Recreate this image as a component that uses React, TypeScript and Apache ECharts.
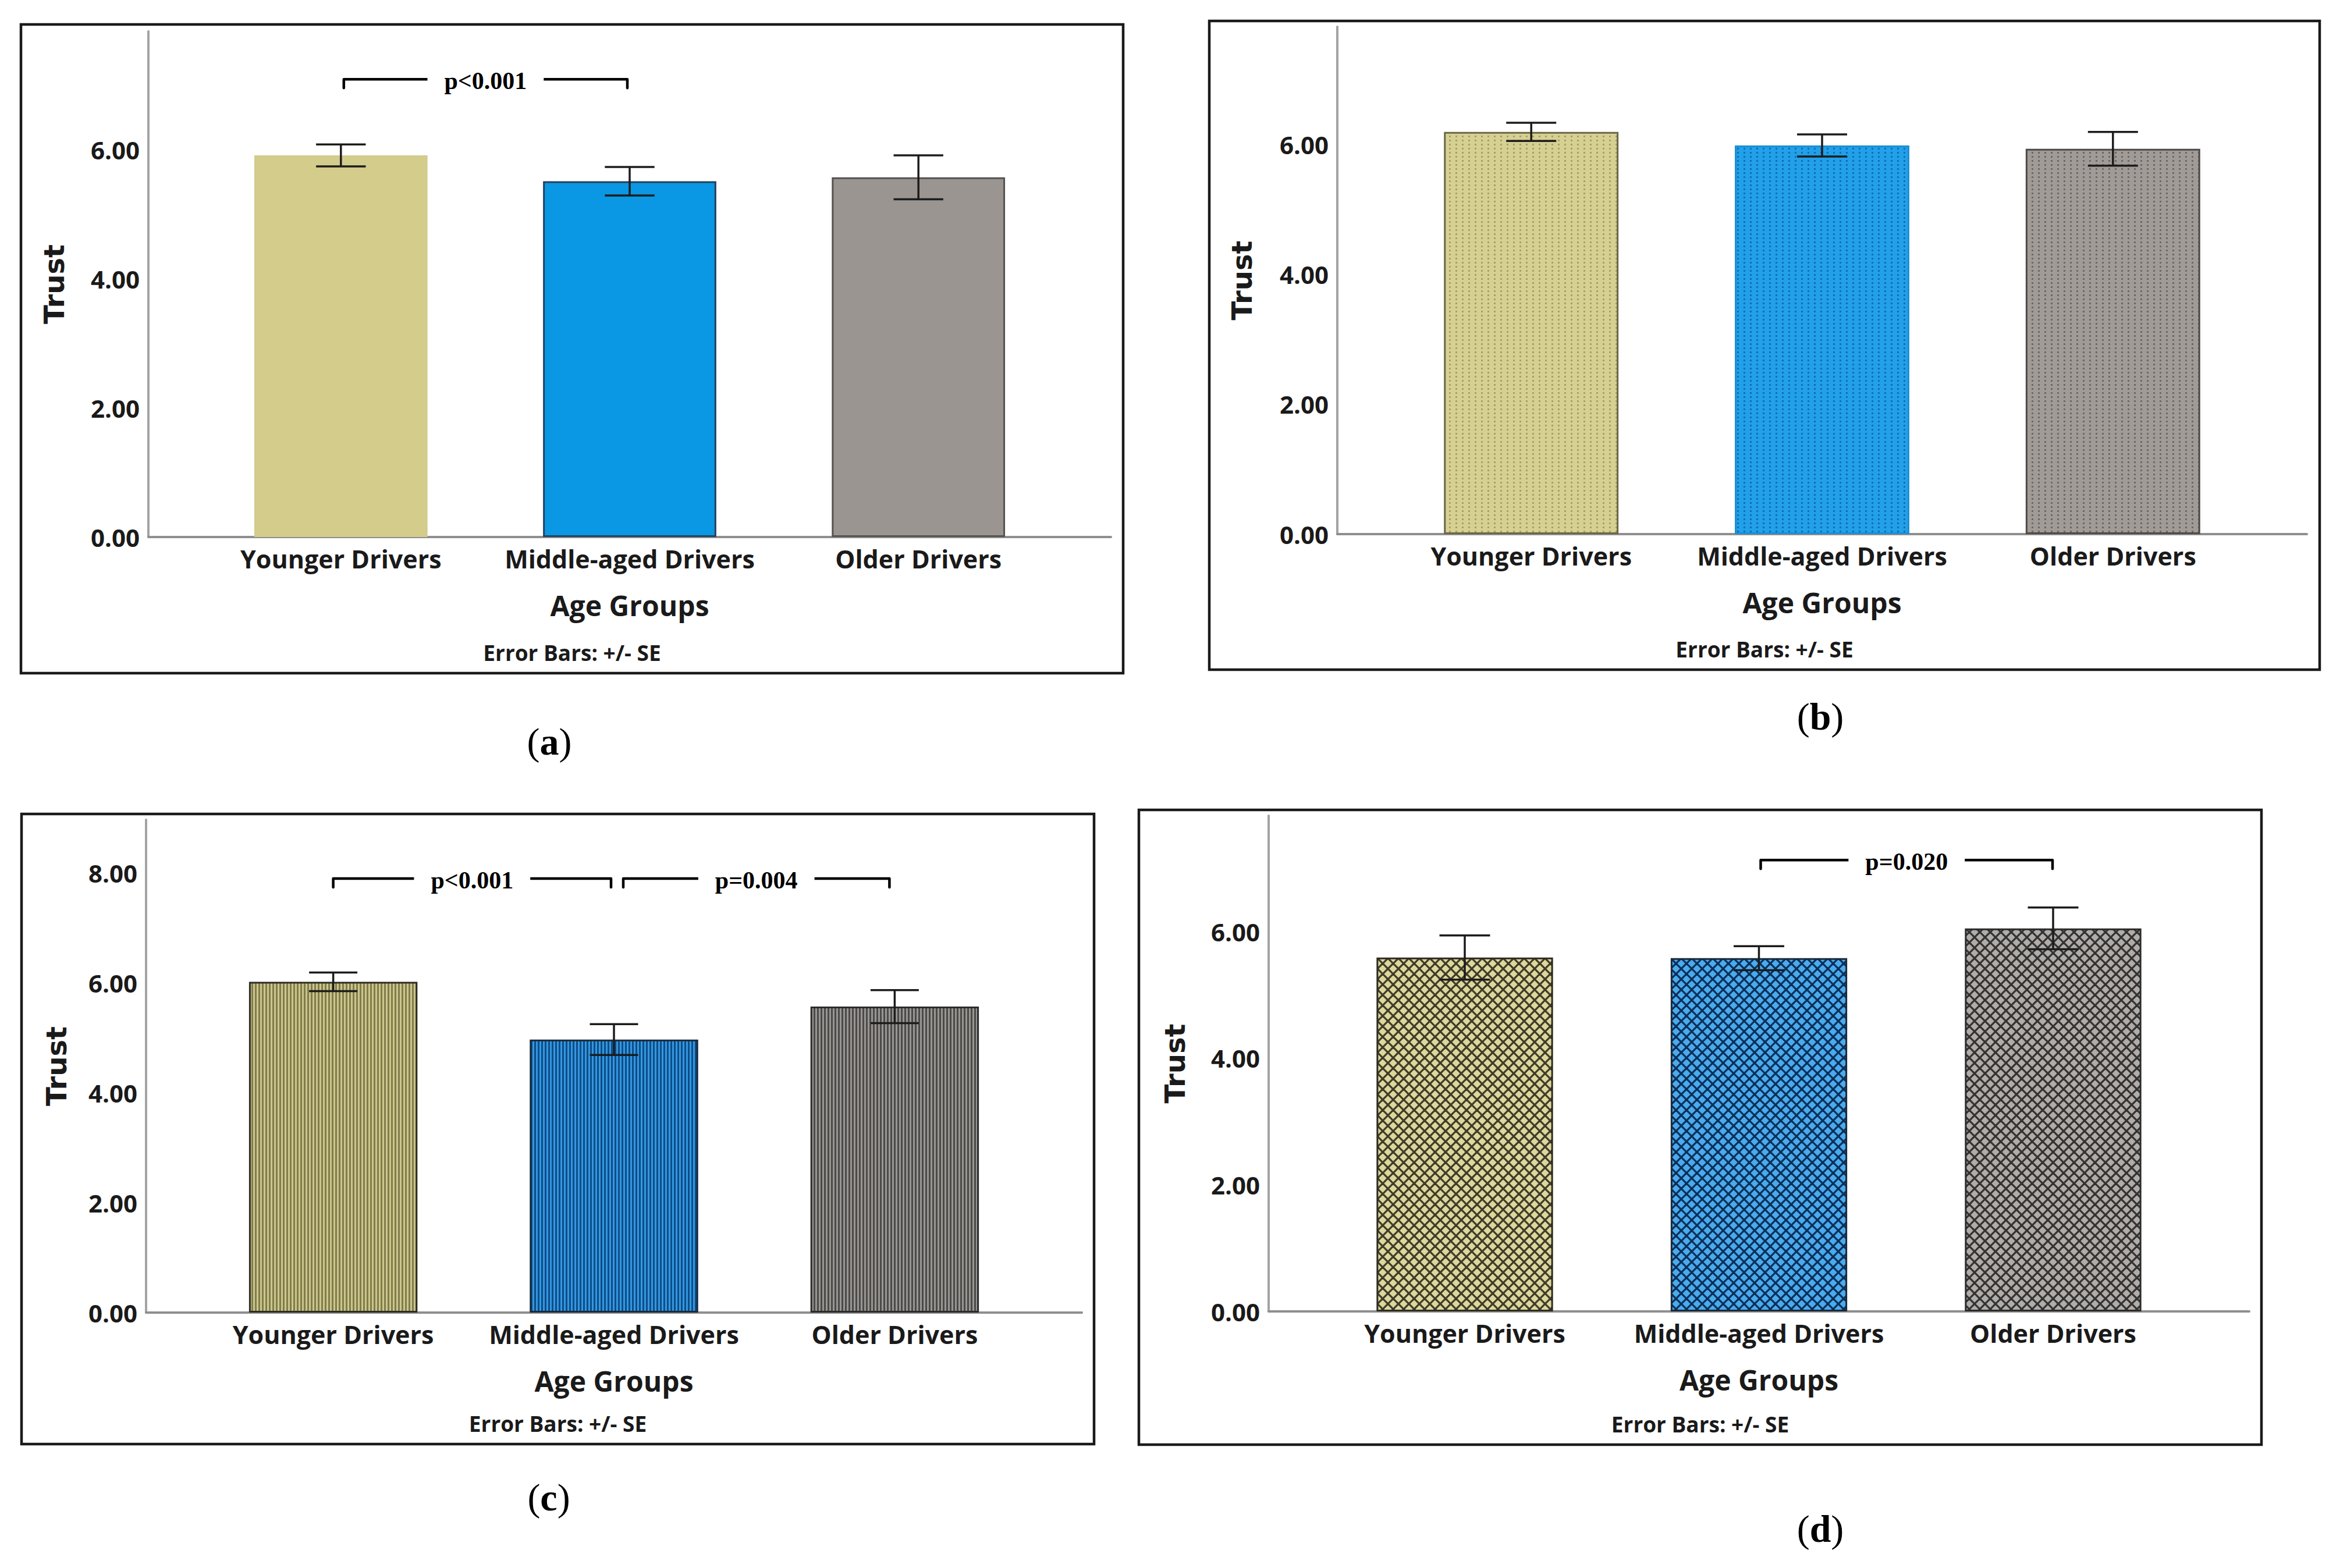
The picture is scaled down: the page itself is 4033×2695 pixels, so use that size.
import React, { useEffect, useRef } from 'react';
import * as echarts from 'echarts';

// ---------- data ----------
const CATEGORIES = ['Younger Drivers', 'Middle-aged Drivers', 'Older Drivers'];
const Y_TICK_STEP = 2;

const MEANS_A = [5.91, 5.51, 5.57];
const SE_A = [0.17, 0.22, 0.34];
const MEANS_B = [6.2, 5.99, 5.94];
const SE_B = [0.14, 0.17, 0.26];
const MEANS_C = [6.02, 4.97, 5.57];
const SE_C = [0.17, 0.28, 0.3];
const MEANS_D = [5.59, 5.58, 6.05];
const SE_D = [0.35, 0.19, 0.33];

const Y_MAX = [7.83, 7.82, 8.97, 7.83];

// brackets: [from category, to category, height]
const BRACKETS_A = [[0, 1, 7.09]];
const BRACKET_LABELS_A = ['p<0.001'];
const BRACKETS_B: number[][] = [];
const BRACKET_LABELS_B: string[] = [];
const BRACKETS_C = [[0, 1, 7.9], [1, 2, 7.9]];
const BRACKET_LABELS_C = ['p<0.001', 'p=0.004'];
const BRACKETS_D = [[1, 2, 7.13]];
const BRACKET_LABELS_D = ['p=0.020'];

const PANEL_LETTERS = ['a', 'b', 'c', 'd'];
const NOTE = 'Error Bars: +/- SE';

// ---------- styling / layout ----------
const SANS = '"Open Sans", "Noto Sans", "Liberation Sans", sans-serif';
const WIDE = '"DejaVu Sans", Verdana, sans-serif';
const SERIF = '"Liberation Serif", "Times New Roman", serif';

const LAYOUT = [
  { frame: [36, 42, 1930, 1157], axisX: 255, top: 54, bottom: 923, right: 1909, trustGap: 138, letter: [944, 1274] },
  { frame: [2078, 36, 3986, 1151], axisX: 2298, top: 46, bottom: 918, right: 3964, trustGap: 140, letter: [3128, 1231] },
  { frame: [37, 1399, 1880, 2482], axisX: 251, top: 1409, bottom: 2256, right: 1859, trustGap: 130, letter: [943, 2573] },
  { frame: [1957, 1392, 3886, 2483], axisX: 2180, top: 1402, bottom: 2254, right: 3865, trustGap: 137, letter: [3128, 2627] },
];
const BRACKET_NUDGE = [[[5, -4]], [], [[0, -5], [16, -9]], [[3, -1]]];

function makePattern(kind: string, bg: string, fg: string) {
  const c = document.createElement('canvas');
  let w = 6;
  let h = 6;
  if (kind === 'dots') { w = 11; h = 7; }
  if (kind === 'cross') { w = 18; h = 18; }
  c.width = w;
  c.height = h;
  const g = c.getContext('2d')!;
  g.fillStyle = bg;
  g.fillRect(0, 0, w, h);
  g.fillStyle = fg;
  g.strokeStyle = fg;
  if (kind === 'dots') {
    g.fillRect(4, 2, 3, 3);
  } else if (kind === 'vlines') {
    g.fillRect(0, 0, 3, h);
  } else if (kind === 'cross') {
    g.lineWidth = 3.3;
    for (const k of [-w, 0, w]) {
      g.beginPath(); g.moveTo(k - 2, -2); g.lineTo(k + w + 2, h + 2); g.stroke();
      g.beginPath(); g.moveTo(k + w + 2, -2); g.lineTo(k - 2, h + 2); g.stroke();
    }
  }
  return { image: c, repeat: 'repeat', imageWidth: w, imageHeight: h };
}

function buildOption() {
  const MEANS = [MEANS_A, MEANS_B, MEANS_C, MEANS_D];
  const SES = [SE_A, SE_B, SE_C, SE_D];
  const BRACKETS = [BRACKETS_A, BRACKETS_B, BRACKETS_C, BRACKETS_D];
  const BLABELS = [BRACKET_LABELS_A, BRACKET_LABELS_B, BRACKET_LABELS_C, BRACKET_LABELS_D];

  const FILLS: any[][] = [
    ['#d3cc8b', '#0a97e3', '#9a9591'],
    [makePattern('dots', '#d6d093', '#a7a262'), makePattern('dots', '#22a0e9', '#0d70b0'), makePattern('dots', '#a09b97', '#6d6865')],
    [makePattern('vlines', '#cbc68a', '#817c4c'), makePattern('vlines', '#3597de', '#0b4d8a'), makePattern('vlines', '#989592', '#4c4a48')],
    [makePattern('cross', '#ddd79d', '#3f3c28'), makePattern('cross', '#4aaaee', '#0b3058'), makePattern('cross', '#b0aca9', '#353331')],
  ];
  const BORDERS = [
    ['#d3cc8b', '#24405e', '#55524f'],
    ['#6b6745', '#1a8fd6', '#4d4a48'],
    ['#2e2c22', '#1a2a3a', '#2b2b2b'],
    ['#2e2c22', '#1a2a3a', '#2b2b2b'],
  ];

  const grid: any[] = [];
  const xAxis: any[] = [];
  const yAxis: any[] = [];
  const series: any[] = [];
  const graphic: any[] = [];

  LAYOUT.forEach((L, p) => {
    const span = L.right - L.axisX;
    const height = L.bottom - L.top;
    grid.push({ left: L.axisX + span * 0.05, width: span * 0.9, top: L.top, height, containLabel: false, outerBoundsMode: 'none' });
    grid.push({ left: L.axisX, width: span, top: L.top, height, containLabel: false, outerBoundsMode: 'none' });

    xAxis.push({
      type: 'category',
      gridIndex: 2 * p,
      data: CATEGORIES,
      axisLine: { show: false },
      axisTick: { show: false },
      splitLine: { show: false },
      axisLabel: { interval: 0, margin: 16, fontSize: 43, fontWeight: 'bold', fontFamily: SANS, color: '#1a1a1a' },
    });
    xAxis.push({
      type: 'value',
      gridIndex: 2 * p + 1,
      min: 0,
      max: 1,
      axisLine: { show: true, lineStyle: { color: '#8f8f8f', width: 4 } },
      axisTick: { show: false },
      axisLabel: { show: false },
      splitLine: { show: false },
      name: 'Age Groups',
      nameLocation: 'middle',
      nameGap: 93,
      nameTextStyle: { fontSize: 48, fontWeight: 'bold', fontFamily: SANS, color: '#1a1a1a' },
    });
    yAxis.push({ type: 'value', gridIndex: 2 * p, min: 0, max: Y_MAX[p], show: false, splitLine: { show: false } });
    yAxis.push({
      type: 'value',
      gridIndex: 2 * p + 1,
      min: 0,
      max: Y_MAX[p],
      interval: Y_TICK_STEP,
      axisLine: { show: true, lineStyle: { color: '#a3a3a3', width: 4 } },
      axisTick: { show: false },
      splitLine: { show: false },
      axisLabel: {
        showMaxLabel: false,
        margin: 15,
        fontSize: 42,
        fontWeight: 'bold',
        fontFamily: SANS,
        color: '#1a1a1a',
        formatter: (v: number) => v.toFixed(2),
      },
      name: 'Trust',
      nameLocation: 'middle',
      nameGap: L.trustGap,
      nameTextStyle: { fontSize: 48, fontWeight: 'bold', fontFamily: WIDE, color: '#1a1a1a' },
    });

    series.push({
      type: 'bar',
      xAxisIndex: 2 * p,
      yAxisIndex: 2 * p,
      barWidth: '60%',
      silent: true,
      data: MEANS[p].map((v, i) => ({
        value: v,
        itemStyle: { color: FILLS[p][i], borderColor: BORDERS[p][i], borderWidth: 3 },
      })),
    });

    series.push({
      type: 'custom',
      xAxisIndex: 2 * p,
      yAxisIndex: 2 * p,
      silent: true,
      z: 5,
      encode: { x: 0, y: [1, 2] },
      data: MEANS[p].map((m, i) => [i, m - SES[p][i], m + SES[p][i]]),
      renderItem: (params: any, api: any) => {
        const x = api.value(0);
        const lo = api.coord([x, api.value(1)]);
        const hi = api.coord([x, api.value(2)]);
        const half = api.size([1, 0])[0] * 0.086;
        const st = { stroke: '#1c1c1c', lineWidth: 3.5 };
        return {
          type: 'group',
          children: [
            { type: 'line', shape: { x1: lo[0], y1: lo[1], x2: hi[0], y2: hi[1] }, style: st },
            { type: 'line', shape: { x1: lo[0] - half, y1: lo[1], x2: lo[0] + half, y2: lo[1] }, style: st },
            { type: 'line', shape: { x1: hi[0] - half, y1: hi[1], x2: hi[0] + half, y2: hi[1] }, style: st },
          ],
        };
      },
    });

    if (BRACKETS[p].length) {
      series.push({
        type: 'custom',
        xAxisIndex: 2 * p,
        yAxisIndex: 2 * p,
        silent: true,
        z: 6,
        encode: { x: [0, 1], y: 2 },
        data: BRACKETS[p],
        renderItem: (params: any, api: any) => {
          const i = params.dataIndex;
          const yv = api.value(2);
          const a = api.coord([api.value(0), yv]);
          const b = api.coord([api.value(1), yv]);
          const nudge = BRACKET_NUDGE[p][i] || [0, 0];
          const x1 = a[0] + nudge[0];
          const x2 = b[0] + nudge[1];
          const y = a[1];
          const hook = 15;
          return {
            type: 'group',
            children: [
              {
                type: 'polyline',
                shape: { points: [[x1, y + hook], [x1, y], [x2, y], [x2, y + hook]] },
                style: { stroke: '#000', lineWidth: 4.5, fill: 'none', lineJoin: 'round', lineCap: 'round' },
              },
              {
                type: 'text',
                x: (x1 + x2) / 2,
                y: y + 3,
                style: {
                  text: BLABELS[p][i],
                  fontFamily: SERIF,
                  fontWeight: 'bold',
                  fontSize: 42,
                  fill: '#000',
                  align: 'center',
                  verticalAlign: 'middle',
                  backgroundColor: '#fff',
                  padding: [0, 29],
                },
              },
            ],
          };
        },
      });
    }

    const [fx1, fy1, fx2, fy2] = L.frame;
    graphic.push({
      type: 'rect',
      silent: true,
      shape: { x: fx1, y: fy1, width: fx2 - fx1, height: fy2 - fy1 },
      style: { fill: 'none', stroke: '#1a1a1a', lineWidth: 4.5 },
    });
    graphic.push({
      type: 'text',
      silent: true,
      x: (fx1 + fx2) / 2,
      y: fy2 - 36,
      style: {
        text: NOTE,
        fontFamily: SANS,
        fontWeight: 'bold',
        fontSize: 37,
        fill: '#1a1a1a',
        align: 'center',
        verticalAlign: 'middle',
      },
    });
    graphic.push({
      type: 'text',
      silent: true,
      x: L.letter[0],
      y: L.letter[1],
      style: {
        text: '({b|' + PANEL_LETTERS[p] + '})',
        fontFamily: SERIF,
        fontSize: 66,
        fill: '#000',
        align: 'center',
        verticalAlign: 'middle',
        rich: { b: { fontFamily: SERIF, fontSize: 66, fontWeight: 'bold', fill: '#000' } },
      },
    });
  });

  return {
    animation: false,
    backgroundColor: '#ffffff',
    grid,
    xAxis,
    yAxis,
    series,
    graphic,
  };
}

export default function App() {
  const ref = useRef<HTMLDivElement>(null);
  useEffect(() => {
    if (!ref.current) return;
    const chart = echarts.init(ref.current, null, { renderer: 'svg' });
    chart.setOption(buildOption() as any);
    return () => chart.dispose();
  }, []);
  return (
    <div
      ref={ref}
      style={{ position: 'absolute', left: 0, top: 0, width: 4033, height: 2695, background: '#fff' }}
    />
  );
}
